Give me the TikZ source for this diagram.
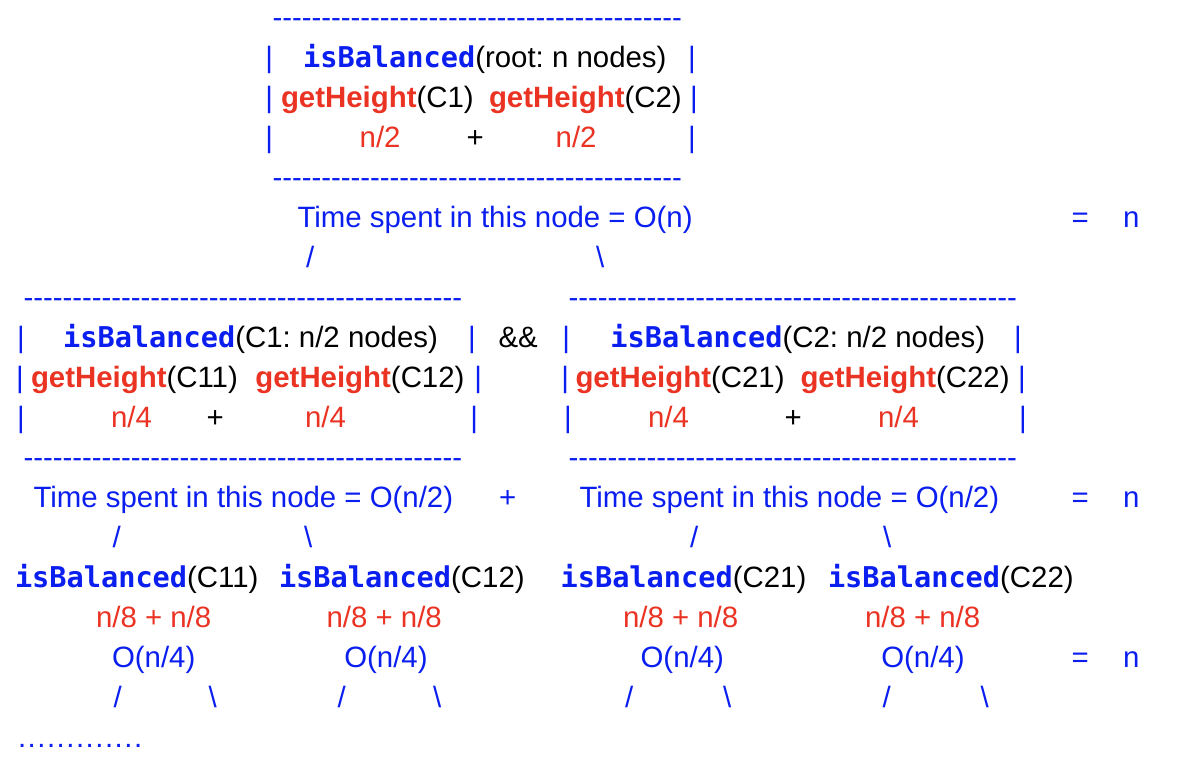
\documentclass[tikz,border=0pt]{standalone}
\usepackage{fontspec}
\newfontfamily\arialf{Liberation Sans}
\newfontfamily\monof{DejaVu Sans Mono}
\definecolor{cblue}{RGB}{10,30,240}
\definecolor{cred}{RGB}{234,51,35}
\newcommand\ar{\arialf\fontsize{29.4}{34}\selectfont\frenchspacing}
\newcommand\IB{{\monof\bfseries\fontsize{28.6}{34}\selectfont\color{cblue}isBalanced}}
\newcommand\GH{{\bfseries\color{cred}getHeight}}
\newcount\mycnt
\newcommand\dashline[1]{\mycnt=0\relax\loop -\kern-0.05pt\relax\advance\mycnt by 1\relax\ifnum\mycnt<#1\repeat}
\newcommand\dotline{.\kern1.5pt.\kern1.5pt.\kern1.5pt.\kern1.5pt.\kern1.5pt.\kern1.5pt.\kern1.5pt.\kern1.5pt.\kern1.5pt.\kern1.5pt.\kern1.5pt.\kern1.5pt.}
\tikzset{
  tx/.style={anchor=base west, inner sep=0pt, outer sep=0pt, font=\ar, text=black},
  bl/.style={tx, text=cblue},
  rd/.style={tx, text=cred},
}
\begin{document}
\begin{tikzpicture}[x=1pt,y=-1pt]
\useasboundingbox (0,0) rectangle (1194,768);
\begin{scope}[yshift=-2.5pt]
% ---------- level 1 ----------
\node[bl] (d0) at (272.7,25) {\dashline{42}};
\node[bl] (b1l) at (265.4,65) {|};
\node[tx] (r1) at (303.1,65) {\IB(root: n nodes)};
\node[bl] (b1r) at (688,65) {|};
\node[bl] (b2l) at (265.4,105) {|};
\node[tx] (g1) at (281,105) {\GH(C1)};
\node[tx] (g2) at (489,105) {\GH(C2)};
\node[bl] (b2r) at (690,105) {|};
\node[bl] (b3l) at (265.4,145) {|};
\node[rd] (h1) at (359.7,145) {n/2};
\node[tx] (p1) at (466.5,145) {+};
\node[rd] (h2) at (555.7,145) {n/2};
\node[bl] (b3r) at (688,145) {|};
\node[bl] (d1) at (272.7,185) {\dashline{42}};
\node[bl] (t1) at (297.5,225) {Time spent in this node = O(n)};
\node[bl] (e1) at (1071.7,225) {=};
\node[bl] (n1) at (1123,225) {n};
\node[bl] (s1) at (306,265) {/};
\node[bl] (s2) at (596,265) {\textbackslash};
% ---------- level 2 ----------
\node[bl] (d2l) at (23.7,305) {\dashline{45}};
\node[bl] (d2r) at (568.7,305) {\dashline{46}};
\node[bl] (c1bl) at (17,345) {|};
\node[tx] (c1) at (63.1,345) {\IB(C1: n/2 nodes)};
\node[bl] (c1br) at (468,345) {|};
\node[tx] (and) at (498.6,345) {\&\&};
\node[bl] (c2bl) at (562.4,345) {|};
\node[tx] (c2) at (610.4,345) {\IB(C2: n/2 nodes)};
\node[bl] (c2br) at (1014,345) {|};
\node[bl] (g1bl) at (16.1,385) {|};
\node[tx] (g11) at (31,385) {\GH(C11)};
\node[tx] (g12) at (255.4,385) {\GH(C12)};
\node[bl] (g1br) at (474.4,385) {|};
\node[bl] (g2bl) at (561.4,385) {|};
\node[tx] (g21) at (575.5,385) {\GH(C21)};
\node[tx] (g22) at (800.5,385) {\GH(C22)};
\node[bl] (g2br) at (1018,385) {|};
\node[bl] (q1bl) at (17,425) {|};
\node[rd] (q11) at (111,425) {n/4};
\node[tx] (qp1) at (206.5,425) {+};
\node[rd] (q12) at (305,425) {n/4};
\node[bl] (q1br) at (470.4,425) {|};
\node[bl] (q2bl) at (564,425) {|};
\node[rd] (q21) at (648,425) {n/4};
\node[tx] (qp2) at (784.5,425) {+};
\node[rd] (q22) at (878,425) {n/4};
\node[bl] (q2br) at (1019,425) {|};
\node[bl] (d3l) at (23.7,465) {\dashline{45}};
\node[bl] (d3r) at (568.7,465) {\dashline{46}};
\node[bl] (t2) at (33.5,505) {Time spent in this node = O(n/2)};
\node[bl] (tp) at (499,505) {+};
\node[bl] (t3) at (579.5,505) {Time spent in this node = O(n/2)};
\node[bl] (e2) at (1071.7,505) {=};
\node[bl] (n2) at (1123,505) {n};
\node[bl] (s3) at (112.5,545) {/};
\node[bl] (s4) at (304,545) {\textbackslash};
\node[bl] (s5) at (690,545) {/};
\node[bl] (s6) at (883,545) {\textbackslash};
% ---------- level 3 ----------
\node[tx] (i11) at (15,585) {\IB(C11)};
\node[tx] (i12) at (279,585) {\IB(C12)};
\node[tx] (i21) at (560.6,585) {\IB(C21)};
\node[tx] (i22) at (828,585) {\IB(C22)};
\node[rd] (m11) at (96,625) {n/8 + n/8};
\node[rd] (m12) at (326.6,625) {n/8 + n/8};
\node[rd] (m21) at (623,625) {n/8 + n/8};
\node[rd] (m22) at (865,625) {n/8 + n/8};
\node[bl] (o11) at (112,665) {O(n/4)};
\node[bl] (o12) at (344.3,665) {O(n/4)};
\node[bl] (o21) at (640.6,665) {O(n/4)};
\node[bl] (o22) at (881.3,665) {O(n/4)};
\node[bl] (e3) at (1071.7,665) {=};
\node[bl] (n3) at (1123,665) {n};
\node[bl] (u1) at (113.6,705) {/};
\node[bl] (u2) at (208.7,705) {\textbackslash};
\node[bl] (u3) at (337.5,705) {/};
\node[bl] (u4) at (433,705) {\textbackslash};
\node[bl] (u5) at (625,705) {/};
\node[bl] (u6) at (723,705) {\textbackslash};
\node[bl] (u7) at (882.7,705) {/};
\node[bl] (u8) at (980.7,705) {\textbackslash};
\node[bl] (dots) at (18,745) {\dotline};
\end{scope}
\end{tikzpicture}
\end{document}
